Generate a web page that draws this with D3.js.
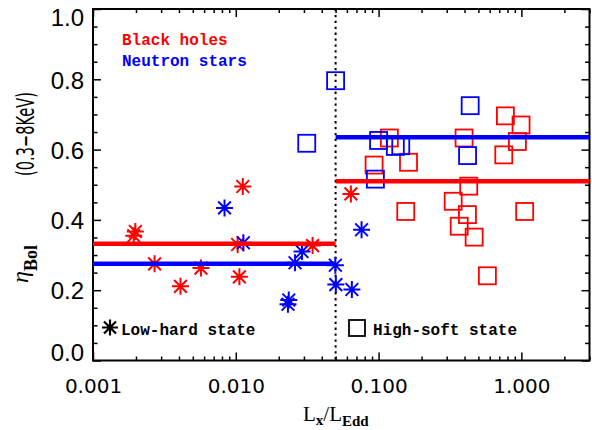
<!DOCTYPE html>
<html><head><meta charset="utf-8">
<script src="https://cdn.jsdelivr.net/npm/d3@7"></script>
<style>body{margin:0;background:#fff}svg{display:block}</style>
</head><body>
<svg id="c" width="592" height="430"></svg>
<script>
// ---- data ----
const xTickValues = [0.001, 0.01, 0.1, 1];
const xTickLabels = ["0.001", "0.010", "0.100", "1.000"];
const yTickValues = [0, 0.2, 0.4, 0.6, 0.8, 1.0];
const yTickLabels = ["0.0", "0.2", "0.4", "0.6", "0.8", "1.0"];

// Black holes, low-hard state (asterisks)
const bhLowX = [0.00198, 0.00193, 0.0027, 0.0041, 0.0057, 0.0103, 0.0106, 0.0112, 0.0345, 0.064];
const bhLowY = [0.367, 0.355, 0.275, 0.211, 0.263, 0.330, 0.238, 0.495, 0.327, 0.474];
// Neutron stars, low-hard state (asterisks)
const nsLowX = [0.00834, 0.0113, 0.0235, 0.0232, 0.026, 0.0291, 0.0498, 0.0502, 0.065, 0.076];
const nsLowY = [0.434, 0.335, 0.172, 0.160, 0.278, 0.310, 0.271, 0.216, 0.202, 0.372];
// Black holes, high-soft state (squares)
const bhHighX = [0.119, 0.162, 0.093, 0.397, 0.773, 0.995, 0.938, 0.753, 0.428, 0.333, 0.155, 0.419, 1.055, 0.367, 0.467, 0.578];
const bhHighY = [0.633, 0.564, 0.556, 0.633, 0.696, 0.670, 0.623, 0.585, 0.496, 0.453, 0.424, 0.415, 0.424, 0.382, 0.351, 0.241];
// Neutron stars, high-soft state (squares)
const nsHighX = [0.05, 0.0314, 0.438, 0.1, 0.131, 0.143, 0.42, 0.095];
const nsHighY = [0.796, 0.618, 0.725, 0.626, 0.609, 0.611, 0.583, 0.516];

// mean levels: [black holes, neutron stars]
const lowMeans = [0.332, 0.275];
const highMeans = [0.51, 0.635];
const stateBoundary = 0.05;
const xDomain = [0.001, 3];
const yDomain = [0, 1];

// ---- drawing ----
const RED = "#ff0000", BLUE = "#0000ff";
const L = 93, R = 589.5, T = 9, B = 360.5;
const svg = d3.select("#c");
const x = d3.scaleLog().domain(xDomain).range([L, R]);
const y = d3.scaleLinear().domain(yDomain).range([B, T]);

const minorX = [];
[0.001, 0.01, 0.1, 1].forEach(d => { for (let k = 2; k <= 9; k++) { const v = d * k; if (v <= xDomain[1]) minorX.push(v); } });
const minorY = d3.range(0, 1.0001, 0.05).map(v => +v.toFixed(2)).filter(v => Math.abs(v*5 - Math.round(v*5)) > 1e-6);

function styleAxis(g) {
  g.select(".domain").remove();
  g.selectAll("line").attr("stroke", "#000").attr("stroke-width", 1.5);
}
// bottom
svg.append("g").attr("transform", `translate(0,${B})`)
  .call(d3.axisBottom(x).tickValues(xTickValues).tickFormat((d, i) => xTickLabels[i]).tickSize(-8).tickPadding(18))
  .call(styleAxis)
  .call(g => g.selectAll("text").attr("font-family", "DejaVu Sans").attr("font-size", 20).attr("fill", "#000"));
svg.append("g").attr("transform", `translate(0,${B})`)
  .call(d3.axisBottom(x).tickValues(minorX).tickFormat("").tickSize(-4)).call(styleAxis);
// top
svg.append("g").attr("transform", `translate(0,${T})`)
  .call(d3.axisTop(x).tickValues(xTickValues).tickFormat("").tickSize(-8)).call(styleAxis);
svg.append("g").attr("transform", `translate(0,${T})`)
  .call(d3.axisTop(x).tickValues(minorX).tickFormat("").tickSize(-4)).call(styleAxis);
// left
const nY = yTickValues.length;
svg.append("g").attr("transform", `translate(${L},0)`)
  .call(d3.axisLeft(y).tickValues(yTickValues).tickFormat((d, i) => yTickLabels[i]).tickSize(-8).tickPadding(9))
  .call(styleAxis)
  .call(g => g.selectAll("text").attr("font-family", "Liberation Sans").attr("font-size", 24).attr("fill", "#000")
    .attr("dy", (d, i) => i === 0 ? "0px" : (i === nY - 1 ? "16px" : "8.7px")));
svg.append("g").attr("transform", `translate(${L},0)`)
  .call(d3.axisLeft(y).tickValues(minorY).tickFormat("").tickSize(-4.5)).call(styleAxis);
// right
svg.append("g").attr("transform", `translate(${R},0)`)
  .call(d3.axisRight(y).tickValues(yTickValues).tickFormat("").tickSize(-8)).call(styleAxis);
svg.append("g").attr("transform", `translate(${R},0)`)
  .call(d3.axisRight(y).tickValues(minorY).tickFormat("").tickSize(-4.5)).call(styleAxis);

// frame
svg.append("rect").attr("x", L).attr("y", T).attr("width", R - L).attr("height", B - T)
  .attr("fill", "none").attr("stroke", "#000").attr("stroke-width", 2);

// dotted boundary
svg.append("line").attr("x1", x(stateBoundary)).attr("x2", x(stateBoundary))
  .attr("y1", y(yDomain[1])).attr("y2", y(yDomain[0]))
  .attr("stroke", "#000").attr("stroke-width", 2).attr("stroke-dasharray", "2.3,3.6");

function asteriskPath(r) {
  const d = r * 0.75;
  return `M${-r},0L${r},0M0,${-r}L0,${r}M${-d},${-d}L${d},${d}M${-d},${d}L${d},${-d}`;
}
function drawAsterisks(xs, ys, color) {
  svg.append("g").selectAll("path").data(xs.map((v, i) => [v, ys[i]])).join("path")
    .attr("transform", d => `translate(${x(d[0])},${y(d[1])})`)
    .attr("d", asteriskPath(8.5)).attr("stroke", color).attr("stroke-width", 2).attr("fill", "none");
}
function drawSquares(xs, ys, color) {
  const s = 17;
  svg.append("g").selectAll("rect").data(xs.map((v, i) => [v, ys[i]])).join("rect")
    .attr("x", d => x(d[0]) - s / 2).attr("y", d => y(d[1]) - s / 2)
    .attr("width", s).attr("height", s)
    .attr("fill", "none").attr("stroke", color).attr("stroke-width", 1.8);
}
drawSquares(bhHighX, bhHighY, RED);
drawSquares(nsHighX, nsHighY, BLUE);
drawAsterisks(bhLowX, bhLowY, RED);
drawAsterisks(nsLowX, nsLowY, BLUE);

// mean lines
const meanColors = [RED, BLUE];
lowMeans.forEach((m, i) => svg.append("line")
  .attr("x1", x(xDomain[0])).attr("x2", x(stateBoundary)).attr("y1", y(m)).attr("y2", y(m))
  .attr("stroke", meanColors[i]).attr("stroke-width", 4.5));
highMeans.forEach((m, i) => svg.append("line")
  .attr("x1", x(stateBoundary)).attr("x2", x(xDomain[1])).attr("y1", y(m)).attr("y2", y(m))
  .attr("stroke", meanColors[i]).attr("stroke-width", 4.5));

// legends
const legFont = "Liberation Mono";
svg.append("text").attr("x", 122).attr("y", 45).attr("fill", RED)
  .attr("font-family", legFont).attr("font-weight", "bold").attr("font-size", 16).text("Black holes");
svg.append("text").attr("x", 122).attr("y", 65.5).attr("fill", BLUE)
  .attr("font-family", legFont).attr("font-weight", "bold").attr("font-size", 16).text("Neutron stars");

svg.append("path").attr("transform", "translate(110,327.5)").attr("d", asteriskPath(8))
  .attr("stroke", "#000").attr("stroke-width", 2.2).attr("fill", "none");
svg.append("text").attr("x", 121).attr("y", 335).attr("fill", "#000")
  .attr("font-family", legFont).attr("font-weight", "bold").attr("font-size", 16).text("Low-hard state");
svg.append("rect").attr("x", 349).attr("y", 320).attr("width", 16).attr("height", 16)
  .attr("fill", "none").attr("stroke", "#000").attr("stroke-width", 1.8);
svg.append("text").attr("x", 373).attr("y", 335).attr("fill", "#000")
  .attr("font-family", legFont).attr("font-weight", "bold").attr("font-size", 16).text("High-soft state");

// x title
const xt = svg.append("text").attr("x", 303).attr("y", 421).attr("font-family", "Liberation Serif").attr("font-size", 21).attr("fill", "#000");
xt.append("tspan").text("L");
xt.append("tspan").attr("dy", 4).attr("font-size", 15).attr("font-weight", "bold").text("x");
xt.append("tspan").attr("dy", -4).text("/L");
xt.append("tspan").attr("dy", 5).attr("font-size", 15).attr("font-weight", "bold").text("Edd");

// y title
const yt = svg.append("text").attr("transform", "translate(28,283) rotate(-90)")
  .attr("font-family", "Liberation Serif").attr("font-size", 24).attr("fill", "#000");
yt.append("tspan").attr("font-style", "italic").text("η");
yt.append("tspan").attr("dy", 9).attr("font-size", 18).attr("font-weight", "bold").text("Bol");
svg.append("text").attr("transform", "translate(34,176) rotate(-90)")
  .attr("font-family", "DejaVu Sans").attr("font-size", 25).attr("fill", "#000")
  .attr("textLength", 84).attr("lengthAdjust", "spacingAndGlyphs").text("(0.3−8KeV)");
</script>
</body></html>
